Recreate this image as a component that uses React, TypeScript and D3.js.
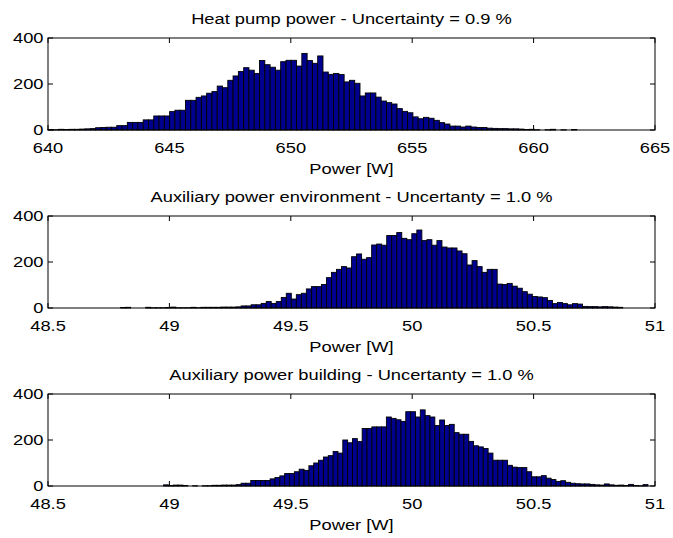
import React from "react";
import * as d3 from "d3";

// ---------- data ----------
const heatPumpCounts = [
  2, 1, 3, 2, 3, 3, 4, 5, 6, 10, 11, 12, 12, 19, 19, 33, 33, 33, 44, 44,
  61, 61, 61, 80, 86, 86, 129, 129, 142, 148, 160, 167, 191, 184, 216, 235, 254, 271, 260, 246,
  302, 284, 273, 260, 297, 303, 303, 278, 333, 302, 290, 322, 252, 242, 246, 241, 209, 216, 203, 148,
  161, 161, 143, 126, 119, 113, 93, 81, 75, 57, 49, 55, 51, 42, 32, 26, 17, 17, 13, 17,
  13, 11, 11, 8, 7, 6, 6, 5, 5, 4, 2, 3, 1, 0, 1, 3, 0, 1, 0, 2,
];
const heatPumpBinStart = 640.0;
const heatPumpBinWidth = 0.2178;
const heatPumpTicks = [640, 645, 650, 655, 660, 665];
const heatPumpTickLabels = ["640", "645", "650", "655", "660", "665"];

const environmentCounts = [
  2, 3, 0, 0, 0, 3, 1, 1, 1, 2, 4, 1, 1, 1, 3, 1, 3, 3, 3, 3,
  4, 4, 4, 5, 9, 9, 14, 14, 20, 28, 20, 28, 46, 64, 39, 58, 64, 83, 93, 93,
  102, 132, 155, 168, 180, 174, 223, 235, 212, 219, 274, 278, 273, 315, 315, 328, 303, 297, 323, 339,
  293, 297, 273, 293, 265, 261, 261, 248, 236, 187, 206, 180, 155, 168, 168, 104, 102, 107, 95, 86,
  71, 60, 50, 48, 45, 33, 19, 24, 19, 14, 19, 17, 7, 6, 6, 5, 6, 5, 4, 3,
];
const environmentBinStart = 48.799;
const environmentBinWidth = 0.02068;

const buildingCounts = [
  5, 2, 4, 4, 2, 0, 1, 0, 1, 1, 3, 3, 4, 4, 4, 6, 12, 12, 24, 24,
  24, 24, 31, 37, 44, 54, 54, 62, 73, 68, 88, 100, 112, 126, 132, 150, 143, 200, 188, 206,
  193, 250, 250, 257, 257, 257, 300, 294, 288, 281, 323, 323, 300, 331, 306, 300, 263, 287, 263, 268,
  232, 225, 225, 194, 175, 170, 163, 143, 112, 112, 112, 90, 82, 80, 80, 62, 40, 40, 45, 34,
  28, 20, 23, 16, 12, 10, 9, 9, 7, 5, 4, 9, 5, 3, 4, 2, 7, 2, 1, 6,
];
const buildingBinStart = 48.976;
const buildingBinWidth = 0.01995;

const auxTicks = [48.5, 49, 49.5, 50, 50.5, 51];
const auxTickLabels = ["48.5", "49", "49.5", "50", "50.5", "51"];

const yTicks = [0, 200, 400];
const yTickLabels = ["0", "200", "400"];

const titles = [
  "Heat pump power - Uncertainty = 0.9 %",
  "Auxiliary power environment - Uncertanty = 1.0 %",
  "Auxiliary power building - Uncertanty = 1.0 %",
];
const xLabel = "Power [W]";

// ---------- layout ----------
const W = 673;
const H = 538;
const L = 48;
const R = 655;
const PANEL_TOPS = [38, 216, 394];
const PANEL_H = 92;
const TICK_LEN = 5;
const FONT = "'Liberation Sans', Arial, Helvetica, sans-serif";
const FS = 15;
const SX = 1.22;
const BAR_FILL = "#00008F";

const panels = [
  {
    title: titles[0],
    counts: heatPumpCounts,
    start: heatPumpBinStart,
    width: heatPumpBinWidth,
    domain: [640, 665],
    ticks: heatPumpTicks,
    tickLabels: heatPumpTickLabels,
  },
  {
    title: titles[1],
    counts: environmentCounts,
    start: environmentBinStart,
    width: environmentBinWidth,
    domain: [48.5, 51],
    ticks: auxTicks,
    tickLabels: auxTickLabels,
  },
  {
    title: titles[2],
    counts: buildingCounts,
    start: buildingBinStart,
    width: buildingBinWidth,
    domain: [48.5, 51],
    ticks: auxTicks,
    tickLabels: auxTickLabels,
  },
];

function Txt({ x, y, anchor, children }: { x: number; y: number; anchor: string; children: any }) {
  return (
    <text
      transform={`translate(${x},${y}) scale(${SX},1)`}
      textAnchor={anchor as any}
      fontFamily={FONT}
      fontSize={FS}
      fill="#000"
    >
      {children}
    </text>
  );
}

function Panel({ p, top }: { p: any; top: number }) {
  const x = d3.scaleLinear().domain(p.domain).range([L, R]);
  const y = d3.scaleLinear().domain([0, 400]).range([top + PANEL_H, top]);
  const bottom = y(0);
  return (
    <g>
      {/* tick marks (drawn beneath bars, like MATLAB's bottom layer) */}
      {p.ticks.map((t: number, i: number) => (
        <g key={"xt" + i} stroke="#000" strokeWidth={1}>
          <line x1={x(t)} x2={x(t)} y1={bottom} y2={bottom - TICK_LEN} />
          <line x1={x(t)} x2={x(t)} y1={y(400)} y2={y(400) + TICK_LEN} />
        </g>
      ))}
      {yTicks.map((t, i) => (
        <g key={"yt" + i} stroke="#000" strokeWidth={1}>
          <line x1={L} x2={L + TICK_LEN} y1={y(t)} y2={y(t)} />
          <line x1={R} x2={R - TICK_LEN} y1={y(t)} y2={y(t)} />
        </g>
      ))}
      {/* bars */}
      {p.counts.map((c: number, i: number) => {
        const x0 = x(p.start + i * p.width);
        const x1 = x(p.start + (i + 1) * p.width);
        return (
          <rect
            key={"b" + i}
            x={x0}
            y={y(c)}
            width={x1 - x0}
            height={bottom - y(c)}
            fill={BAR_FILL}
            stroke="#000"
            strokeWidth={0.9}
          />
        );
      })}
      {/* axes box */}
      <rect x={L} y={top} width={R - L} height={PANEL_H} fill="none" stroke="#000" strokeWidth={1} />
      {/* labels */}
      {p.ticks.map((t: number, i: number) => (
        <Txt key={"xl" + i} x={x(t)} y={bottom + 23.3} anchor="middle">
          {p.tickLabels[i]}
        </Txt>
      ))}
      {yTicks.map((t, i) => (
        <Txt key={"yl" + i} x={L - 4.5} y={y(t) + 5.3} anchor="end">
          {yTickLabels[i]}
        </Txt>
      ))}
      <Txt x={(L + R) / 2} y={top - 14} anchor="middle">
        {p.title}
      </Txt>
      <Txt x={(L + R) / 2} y={bottom + 44} anchor="middle">
        {xLabel}
      </Txt>
    </g>
  );
}

export default function App() {
  return (
    <svg
      width={W}
      height={H}
      viewBox={`0 0 ${W} ${H}`}
      style={{ position: "absolute", left: 0, top: 0, background: "#fff" }}
    >
      <rect x={0} y={0} width={W} height={H} fill="#fff" />
      {panels.map((p, k) => (
        <Panel key={k} p={p} top={PANEL_TOPS[k]} />
      ))}
    </svg>
  );
}
